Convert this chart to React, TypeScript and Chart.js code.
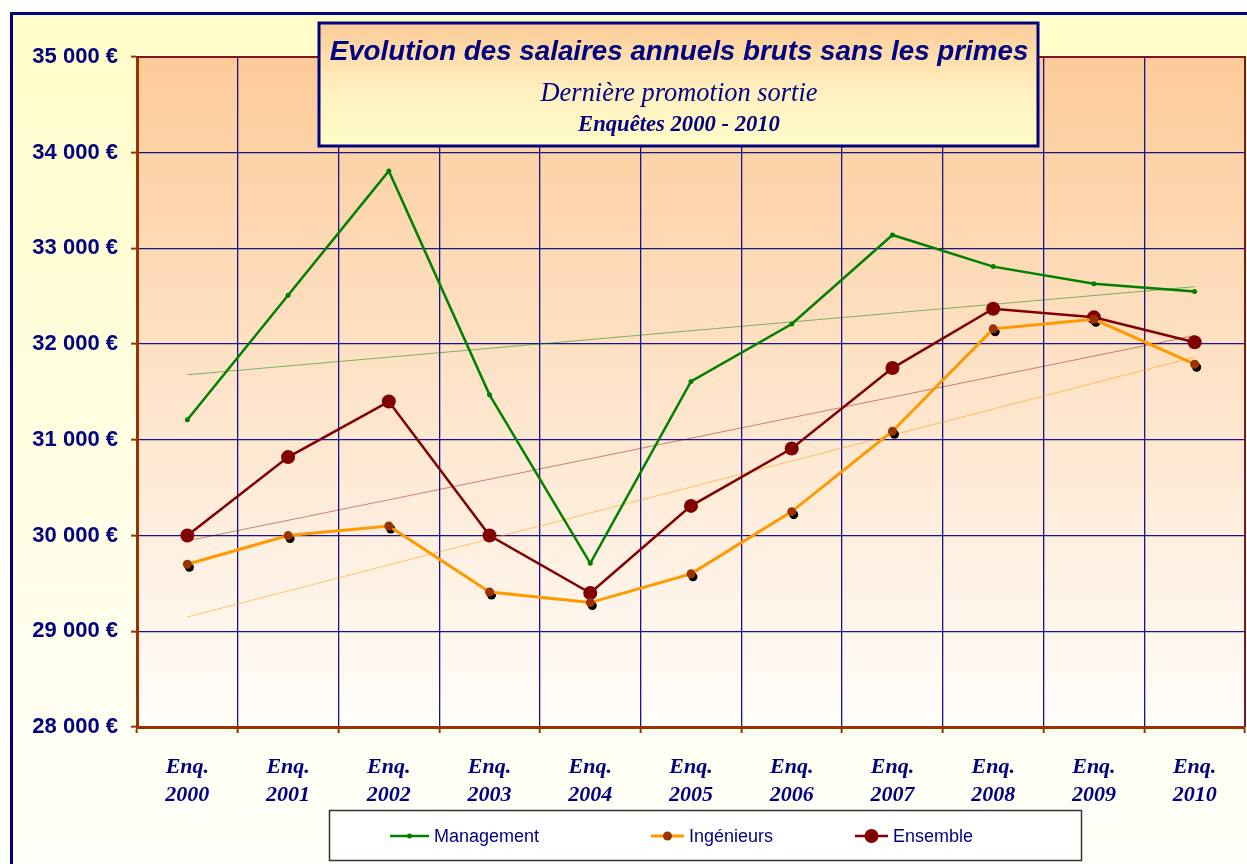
import React, { useEffect, useRef } from 'react';
import { Chart, registerables } from 'chart.js';

Chart.register(...registerables);

const years = ['2000', '2001', '2002', '2003', '2004', '2005', '2006', '2007', '2008', '2009', '2010'];
const categoryLabels = years.map((y) => ['Enq.', y]);

const management = [31210, 32510, 33810, 31470, 29710, 31610, 32210, 33140, 32810, 32630, 32550];
const ingenieurs = [29700, 30000, 30100, 29410, 29300, 29600, 30250, 31090, 32160, 32260, 31790];
const ensemble = [30000, 30820, 31400, 30000, 29400, 30310, 30910, 31750, 32370, 32280, 32020];

const trendManagement = [31680, null, null, null, null, null, null, null, null, null, 32600];
const trendIngenieurs = [29150, null, null, null, null, null, null, null, null, null, 31865];
const trendEnsemble = [29945, null, null, null, null, null, null, null, null, null, 32090];

const yMin = 28000;
const yMax = 35000;
const yStep = 1000;

const titleText = 'Evolution des salaires annuels bruts sans les primes';
const subtitleText = 'Dernière promotion sortie';
const subtitle2Text = 'Enquêtes 2000 - 2010';

const NAVY = '#000080';
const GRID = '#14148c';
const BROWN = '#993300';
const MAROON = '#7a1426';

const CANVAS_W = 1252;
const CANVAS_H = 864;

function fmtEuro(v: number) {
  const s = Math.round(v).toString();
  return s.replace(/\B(?=(\d{3})+(?!\d))/g, ' ') + ' €';
}

function fitFont(ctx: CanvasRenderingContext2D, text: string, base: string, family: string, width: number) {
  ctx.font = `${base} 20px ${family}`;
  const w = ctx.measureText(text).width;
  const size = (20 * width) / w;
  return `${base} ${size.toFixed(2)}px ${family}`;
}

const decorPlugin = {
  id: 'decor',
  beforeDraw(chart: any) {
    const { ctx, chartArea, width, height } = chart;
    ctx.save();
    const g = ctx.createLinearGradient(0, 13, 0, height);
    g.addColorStop(0, '#FFFDC8');
    g.addColorStop(1, '#FFFFFA');
    ctx.fillStyle = '#ffffff';
    ctx.fillRect(0, 0, width, height);
    ctx.fillStyle = g;
    ctx.fillRect(11, 13, width, height);
    ctx.strokeStyle = NAVY;
    ctx.lineWidth = 3;
    ctx.strokeRect(11.5, 13.5, width + 20, height + 20);

    const pg = ctx.createLinearGradient(0, chartArea.top, 0, chartArea.bottom);
    pg.addColorStop(0, '#FDCB98');
    pg.addColorStop(1, '#FFFDFB');
    ctx.fillStyle = pg;
    ctx.fillRect(chartArea.left, chartArea.top, chartArea.right - chartArea.left, chartArea.bottom - chartArea.top);
    ctx.restore();
  },
  beforeDatasetsDraw(chart: any) {
    const { ctx, chartArea } = chart;
    ctx.save();
    ctx.strokeStyle = MAROON;
    ctx.lineWidth = 2;
    ctx.beginPath();
    ctx.moveTo(chartArea.left, chartArea.top);
    ctx.lineTo(chartArea.right, chartArea.top);
    ctx.lineTo(chartArea.right, chartArea.bottom);
    ctx.stroke();
    ctx.restore();
  },
  beforeDatasetDraw(chart: any, args: any) {
    if (args.index !== 1) return;
    const { ctx } = chart;
    const meta = chart.getDatasetMeta(1);
    ctx.save();
    ctx.fillStyle = '#000000';
    meta.data.forEach((pt: any) => {
      ctx.beginPath();
      ctx.arc(pt.x + 2, pt.y + 3, 4.5, 0, Math.PI * 2);
      ctx.fill();
    });
    ctx.restore();
  },
  afterDraw(chart: any) {
    const { ctx } = chart;
    ctx.save();
    // Title box
    const bx = 319, by = 23, bw = 719, bh = 123;
    const tg = ctx.createLinearGradient(0, by, 0, by + bh);
    tg.addColorStop(0, '#FDCB98');
    tg.addColorStop(0.55, '#FFF0C0');
    tg.addColorStop(1, '#FFFCC8');
    ctx.fillStyle = tg;
    ctx.fillRect(bx, by, bw, bh);
    ctx.strokeStyle = NAVY;
    ctx.lineWidth = 3;
    ctx.strokeRect(bx, by, bw, bh);

    ctx.fillStyle = NAVY;
    ctx.textAlign = 'center';
    ctx.textBaseline = 'alphabetic';
    ctx.font = fitFont(ctx, titleText, 'italic bold', '"Liberation Sans", Arial, sans-serif', 699);
    ctx.fillText(titleText, 679, 60);
    ctx.font = fitFont(ctx, subtitleText, 'italic', '"Liberation Serif", "Times New Roman", serif', 277);
    ctx.fillText(subtitleText, 679, 101);
    ctx.font = fitFont(ctx, subtitle2Text, 'italic bold', '"Liberation Serif", "Times New Roman", serif', 202);
    ctx.fillText(subtitle2Text, 679, 131);

    // Legend box
    const lx = 329, ly = 810, lw = 752, lh = 50;
    ctx.fillStyle = '#FFFFFF';
    ctx.fillRect(lx, ly, lw, lh);
    ctx.strokeStyle = '#333333';
    ctx.lineWidth = 1.5;
    ctx.strokeRect(lx + 0.5, ly + 0.5, lw, lh);

    const itemX = [390, 651, 855];
    const lineLen = [39, 33, 33];
    const cy = 836;
    ctx.textAlign = 'left';
    ctx.textBaseline = 'middle';
    ctx.font = '18px "Liberation Sans", Arial, sans-serif';
    for (let i = 0; i < 3; i++) {
      const ds = chart.data.datasets[i];
      const x0 = itemX[i];
      const len = lineLen[i];
      ctx.strokeStyle = ds.borderColor;
      ctx.lineWidth = ds.borderWidth;
      ctx.beginPath();
      ctx.moveTo(x0, cy);
      ctx.lineTo(x0 + len, cy);
      ctx.stroke();
      ctx.fillStyle = ds.pointBackgroundColor;
      ctx.beginPath();
      ctx.arc(x0 + len / 2, cy, ds.pointRadius, 0, Math.PI * 2);
      ctx.fill();
      ctx.fillStyle = NAVY;
      ctx.fillText(ds.label, x0 + len + 5, cy + 1);
    }
    ctx.restore();
  },
};

export default function App() {
  const ref = useRef<HTMLCanvasElement | null>(null);

  useEffect(() => {
    if (!ref.current) return;
    const chart = new Chart(ref.current, {
      type: 'line',
      data: {
        labels: categoryLabels,
        datasets: [
          {
            label: 'Management',
            data: management,
            borderColor: '#008000',
            backgroundColor: '#008000',
            pointBackgroundColor: '#008000',
            pointBorderWidth: 0,
            pointRadius: 2.5,
            borderWidth: 2.5,
            tension: 0,
          },
          {
            label: 'Ingénieurs',
            data: ingenieurs,
            borderColor: '#FF9900',
            backgroundColor: '#993300',
            pointBackgroundColor: '#993300',
            pointBorderWidth: 0,
            pointRadius: 4.5,
            borderWidth: 3,
            tension: 0,
          },
          {
            label: 'Ensemble',
            data: ensemble,
            borderColor: '#800000',
            backgroundColor: '#800000',
            pointBackgroundColor: '#800000',
            pointBorderWidth: 0,
            pointRadius: 7,
            borderWidth: 2.5,
            tension: 0,
          },
          {
            label: 'Tendance Management',
            data: trendManagement,
            borderColor: 'rgba(0,128,0,0.5)',
            borderWidth: 1,
            pointRadius: 0,
            spanGaps: true,
          },
          {
            label: 'Tendance Ingénieurs',
            data: trendIngenieurs,
            borderColor: 'rgba(255,153,0,0.55)',
            borderWidth: 1,
            pointRadius: 0,
            spanGaps: true,
          },
          {
            label: 'Tendance Ensemble',
            data: trendEnsemble,
            borderColor: 'rgba(128,0,0,0.45)',
            borderWidth: 1,
            pointRadius: 0,
            spanGaps: true,
          },
        ],
      },
      options: {
        responsive: false,
        animation: false,
        events: [],
        layout: { padding: { top: 57, right: 0, bottom: 0, left: 0 } },
        plugins: {
          legend: { display: false },
          title: { display: false },
          tooltip: { enabled: false },
        },
        scales: {
          x: {
            type: 'category',
            offset: true,
            grid: {
              offset: true,
              color: GRID,
              lineWidth: 1.3,
              tickColor: BROWN,
              tickLength: 6,
              tickWidth: 2,
            },
            border: { color: BROWN, width: 3 },
            ticks: {
              color: NAVY,
              padding: 20,
              maxRotation: 0,
              autoSkip: false,
              font: { family: '"Liberation Serif", "Times New Roman", serif', style: 'italic', weight: 'bold', size: 22, lineHeight: 1.27 },
            },
            afterFit: (s: any) => {
              s.height = 137;
            },
          },
          y: {
            min: yMin,
            max: yMax,
            grid: {
              color: GRID,
              lineWidth: 1.3,
              tickColor: BROWN,
              tickLength: 6,
              tickWidth: 2,
            },
            border: { color: BROWN, width: 3 },
            ticks: {
              stepSize: yStep,
              color: NAVY,
              padding: 13,
              font: { family: '"Liberation Sans", Arial, sans-serif', weight: 'bold', size: 22 },
              callback: (v: any) => fmtEuro(Number(v)),
            },
            afterFit: (s: any) => {
              s.width = 137;
            },
          },
        },
      },
      plugins: [decorPlugin],
    });
    return () => chart.destroy();
  }, []);

  return (
    <div style={{ position: 'fixed', left: 0, top: 0, width: 1247, height: 864, overflow: 'hidden' }}>
      <canvas ref={ref} width={CANVAS_W} height={CANVAS_H} style={{ display: 'block' }} />
    </div>
  );
}
